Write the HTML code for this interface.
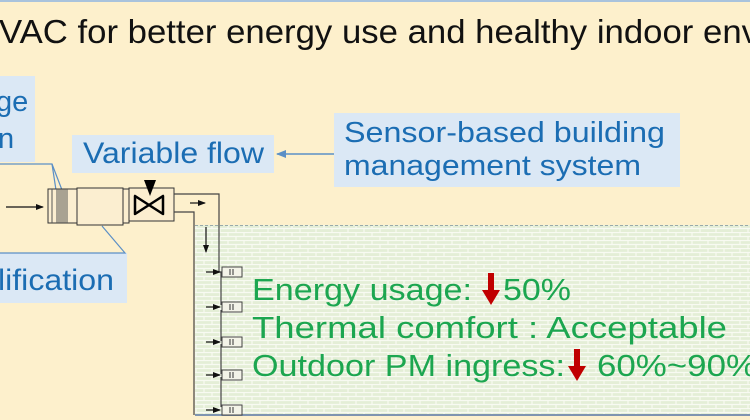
<!DOCTYPE html>
<html><head><meta charset="utf-8"><style>
html,body{margin:0;padding:0;width:750px;height:420px;overflow:hidden;background:#fdf0cc}
svg text{font-family:"Liberation Sans",sans-serif}
</style></head><body>
<svg width="750" height="420" viewBox="0 0 750 420" xmlns="http://www.w3.org/2000/svg">
<defs>
<pattern id="brick" width="16" height="8" patternUnits="userSpaceOnUse">
<rect width="16" height="8" fill="#e4eed6"/>
<path d="M0 0.5H16M0 4.5H16M4 0V4M12 4V8" stroke="#f8faf2" stroke-width="1.2"/>
</pattern>
<marker id="ah" markerWidth="8" markerHeight="8" refX="7" refY="4" orient="auto" markerUnits="userSpaceOnUse"><path d="M0,1 L8,4 L0,7z" fill="#111"/></marker>
<marker id="bh" markerWidth="10" markerHeight="8" refX="9" refY="4" orient="auto" markerUnits="userSpaceOnUse"><path d="M0,0 L10,4 L0,8z" fill="#5b8fc6"/></marker>
</defs>
<rect x="0" y="0" width="750" height="420" fill="#fdf0cc"/>
<line x1="0" y1="1" x2="750" y2="1" stroke="#a9c3dc" stroke-width="2"/>
<text x="-1" y="43" font-size="33" fill="#111" textLength="760" lengthAdjust="spacingAndGlyphs">VAC for better energy use and healthy indoor env</text>
<rect x="195" y="225" width="555" height="190" fill="url(#brick)"/>
<line x1="195" y1="225.5" x2="750" y2="225.5" stroke="#9aa" stroke-width="1" stroke-dasharray="3,2"/>
<line x1="195" y1="415" x2="750" y2="415" stroke="#7f95b0" stroke-width="2"/>
<rect x="0" y="76" width="35" height="86" fill="#dbe8f5"/>
<text x="-4" y="111" font-size="29" fill="#1b6db3">ge</text>
<text x="-2" y="148" font-size="29" fill="#1b6db3">n</text>
<rect x="72" y="135" width="202" height="38" fill="#dbe8f5"/>
<text x="83" y="163" font-size="30" fill="#1b6db3" textLength="181" lengthAdjust="spacingAndGlyphs">Variable flow</text>
<rect x="334" y="113" width="346" height="74" fill="#dbe8f5"/>
<text x="344" y="142" font-size="29" fill="#1b6db3" textLength="321" lengthAdjust="spacingAndGlyphs">Sensor-based building</text>
<text x="344" y="175" font-size="29" fill="#1b6db3" textLength="297" lengthAdjust="spacingAndGlyphs">management system</text>
<line x1="334" y1="154" x2="277" y2="154" stroke="#5b8fc6" stroke-width="1.5" marker-end="url(#bh)"/>
<rect x="0" y="253" width="127" height="50" fill="#dbe8f5"/>
<text x="-2" y="290" font-size="30" fill="#1b6db3" textLength="116" lengthAdjust="spacingAndGlyphs">lification</text>
<polyline points="0,164 52,164 62,190" fill="none" stroke="#5b8fc6" stroke-width="1.2"/>
<line x1="52" y1="164" x2="56" y2="190" stroke="#5b8fc6" stroke-width="1.2"/>
<polyline points="102,226 125,253 0,253" fill="none" stroke="#5b8fc6" stroke-width="1.2"/>
<line x1="6" y1="207" x2="43" y2="207" stroke="#111" stroke-width="1.2" marker-end="url(#ah)"/>
<rect x="48" y="189" width="29" height="34" fill="#fbeed0" stroke="#333" stroke-width="1"/>
<path d="M57 189V223M59 189V223M61 189V223M63 189V223M65 189V223M67 189V223M52 189V223" stroke="#555" stroke-width="1"/>
<rect x="77" y="188" width="46" height="37" fill="#fbeed0" stroke="#333" stroke-width="1"/>
<rect x="123" y="189" width="6" height="34" fill="#fbeed0" stroke="#333" stroke-width="1"/>
<rect x="129" y="188" width="45" height="33" fill="#fbeed0" stroke="#333" stroke-width="1"/>
<path d="M135 196L135 214L163 196L163 214Z" fill="none" stroke="#000" stroke-width="2.5" stroke-linejoin="round"/>
<path d="M144 180L156 180L150 196Z" fill="#000"/>
<polyline points="174,194 219,194 219,268" fill="none" stroke="#444" stroke-width="1.2"/>
<polyline points="174,212 194,212 194,415" fill="none" stroke="#444" stroke-width="1.2"/>
<line x1="190" y1="203" x2="205" y2="203" stroke="#111" stroke-width="1.2" marker-end="url(#ah)"/>
<line x1="206" y1="227" x2="206" y2="252" stroke="#111" stroke-width="1.2" marker-end="url(#ah)"/>
<g stroke="#444" stroke-width="1.2" fill="none">
<path d="M219 268V272H222M221 272V305M221 310V341M221 344V374M221 377V407"/>
</g>
<g fill="#f3f3e8" stroke="#444" stroke-width="1">
<rect x="222" y="267" width="20" height="10"/><rect x="222" y="302" width="20" height="10"/><rect x="222" y="337" width="20" height="10"/><rect x="222" y="370" width="20" height="10"/><rect x="222" y="405" width="20" height="10"/>
</g>
<g stroke="#333" stroke-width="1">
<path d="M230 269V275M233 269V275M230 304V310M233 304V310M230 339V345M233 339V345M230 372V378M233 372V378M230 407V413M233 407V413"/>
</g>
<g stroke="#111" stroke-width="1.2">
<line x1="206" y1="272" x2="220" y2="272" marker-end="url(#ah)"/>
<line x1="206" y1="307" x2="220" y2="307" marker-end="url(#ah)"/>
<line x1="206" y1="342" x2="220" y2="342" marker-end="url(#ah)"/>
<line x1="206" y1="375" x2="220" y2="375" marker-end="url(#ah)"/>
<line x1="206" y1="410" x2="220" y2="410" marker-end="url(#ah)"/>
</g>
<text x="252" y="300" font-size="31" fill="#1ca650" textLength="220" lengthAdjust="spacingAndGlyphs">Energy usage:</text>
<path d="M488 273h6v17h6l-9 15l-9-15h6z" fill="#c00000"/>
<text x="503" y="300" font-size="31" fill="#1ca650" textLength="68" lengthAdjust="spacingAndGlyphs">50%</text>
<text x="252" y="338" font-size="31" fill="#1ca650" textLength="475" lengthAdjust="spacingAndGlyphs">Thermal comfort : Acceptable</text>
<text x="252" y="376" font-size="31" fill="#1ca650" textLength="313" lengthAdjust="spacingAndGlyphs">Outdoor PM ingress:</text>
<path d="M574 349h6v17h6l-9 15l-9-15h6z" fill="#c00000"/>
<text x="597" y="376" font-size="31" fill="#1ca650" textLength="160" lengthAdjust="spacingAndGlyphs">60%~90%</text>
</svg>
</body></html>
